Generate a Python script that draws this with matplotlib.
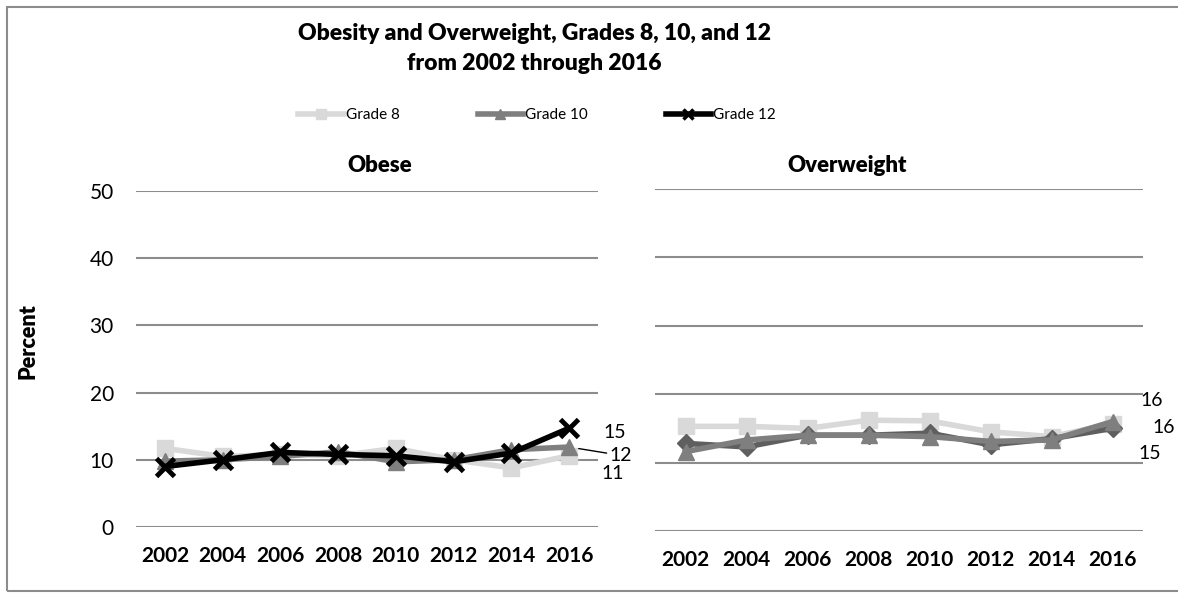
import matplotlib
matplotlib.use("Agg")
import matplotlib.pyplot as plt
from matplotlib.lines import Line2D

plt.rcParams['font.family'] = ['Lato', 'DejaVu Sans']

years = ["2002", "2004", "2006", "2008", "2010", "2012", "2014", "2016"]

obese_g8 = [11.7, 10.5, 10.8, 10.6, 11.7, 10.0, 8.8, 10.6]
obese_g10 = [9.8, 10.0, 10.5, 11.2, 9.7, 10.0, 11.5, 11.9]
obese_g12 = [9.0, 10.0, 11.1, 10.8, 10.6, 9.7, 11.0, 14.7]

over_g8 = [15.3, 15.3, 15.0, 16.2, 16.1, 14.5, 13.8, 15.7]
over_g10 = [11.6, 13.3, 14.0, 14.0, 13.8, 13.1, 13.3, 16.0]
over_g12 = [12.8, 12.3, 14.0, 14.0, 14.3, 12.6, 13.5, 15.0]

yticks = [0, 10, 20, 30, 40, 50]
series_names = ["Grade 8", "Grade 10", "Grade 12"]

W, H = 1178, 598
fig = plt.figure(figsize=(W / 100, H / 100), dpi=100)

# outer border (right side runs off the picture, as in the reference)
fig.patches.append(plt.Rectangle((7 / W, 7 / H), 1.0, 1 - 14 / H, transform=fig.transFigure,
                                 fill=False, edgecolor='#8c8c8c', linewidth=1.5))

def px_axes(x0, y_top, x1, y_bot):
    return fig.add_axes([x0 / W, 1 - y_bot / H, (x1 - x0) / W, (y_bot - y_top) / H])

axL = px_axes(136, 191, 598, 527)
axR = px_axes(655, 189, 1143, 531)

C8, C10, C12 = '#d9d9d9', '#7f7f7f', '#000000'
x = list(range(len(years)))

def style(ax, show_y):
    ax.set_xlim(-0.5, len(years) - 0.5)
    ax.set_ylim(0, 50)
    ax.set_yticks(yticks)
    for y in yticks:
        ax.axhline(y, color='#8c8c8c', lw=1.5, zorder=0)
    for s in ax.spines.values():
        s.set_visible(False)
    ax.set_xticks(x)
    ax.set_xticklabels(years, fontsize=15, fontweight='bold')
    ax.tick_params(axis='x', length=0, pad=14)
    ax.tick_params(axis='y', length=0, pad=16, labelsize=15)
    if not show_y:
        ax.set_yticklabels([])

style(axL, True)
style(axR, False)

LBL = 14

# Left: Obese
axL.plot(x, obese_g8, color=C8, lw=4, marker='s', ms=11, zorder=2)
axL.plot(x, obese_g10, color=C10, lw=4, marker='^', ms=12, zorder=3)
axL.plot(x, obese_g12, color=C12, lw=4, marker='x', ms=13, mew=3.5, zorder=4)

axL.annotate(f"{obese_g12[-1]:.0f}", (x[-1], obese_g12[-1]), xytext=(25, -3), textcoords='offset points',
             fontsize=LBL, va='center', ha='left')
axL.annotate(f"{obese_g10[-1]:.0f}", (x[-1], obese_g10[-1]), xytext=(29, -6), textcoords='offset points',
             fontsize=LBL, va='center', ha='left',
             arrowprops=dict(arrowstyle='-', color='black', lw=1, shrinkA=0, shrinkB=7))
axL.annotate(f"{obese_g8[-1]:.0f}", (x[-1], obese_g8[-1]), xytext=(23, -13), textcoords='offset points',
             fontsize=LBL, va='center', ha='left')

# Right: Overweight
axR.plot(x, over_g8, color=C8, lw=4, marker='s', ms=11, zorder=2)
axR.plot(x, over_g12, color='#5f5f5f', lw=4, marker='D', ms=9, zorder=3)
axR.plot(x, over_g10, color=C10, lw=4, marker='^', ms=12, zorder=4)

axR.annotate(f"{over_g8[-1]:.0f}", (x[-1], over_g8[-1]), xytext=(20, 17), textcoords='offset points',
             fontsize=LBL, va='center', ha='left')
axR.annotate(f"{over_g10[-1]:.0f}", (x[-1], over_g10[-1]), xytext=(29, -4), textcoords='offset points',
             fontsize=LBL, va='center', ha='left')
axR.annotate(f"{over_g12[-1]:.0f}", (x[-1], over_g12[-1]), xytext=(19, -18), textcoords='offset points',
             fontsize=LBL, va='center', ha='left')

# Titles
fig.text(534 / W, 1 - 33 / H, "Obesity and Overweight, Grades 8, 10, and 12", ha='center', va='center',
         fontsize=16.5, fontweight='heavy')
fig.text(534 / W, 1 - 64 / H, "from 2002 through 2016", ha='center', va='center',
         fontsize=16.5, fontweight='heavy')
fig.text(380 / W, 1 - 166 / H, "Obese", ha='center', va='center', fontsize=16, fontweight='heavy')
fig.text(847 / W, 1 - 166 / H, "Overweight", ha='center', va='center', fontsize=16, fontweight='heavy')
fig.text(28 / W, 1 - 341 / H, "Percent", ha='center', va='center', rotation=90, fontsize=15.5,
         fontweight='heavy')

# Legend
handles = [
    Line2D([], [], color=C8, lw=4, marker='s', ms=7),
    Line2D([], [], color=C10, lw=4, marker='^', ms=7),
    Line2D([], [], color=C12, lw=4, marker='x', ms=7, mew=2.5),
]
fig.legend(handles, series_names, loc='center', bbox_to_anchor=(537 / W, 1 - 115 / H), ncol=3,
           frameon=False, fontsize=11, handlelength=3.0, handletextpad=0.1, columnspacing=5.1)

fig.savefig("out.png", dpi=100)
